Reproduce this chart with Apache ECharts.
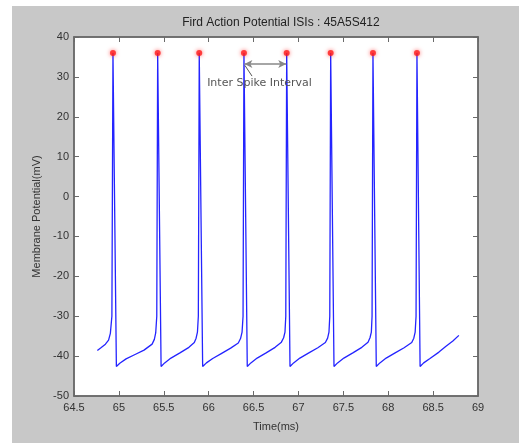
<!DOCTYPE html>
<html><head><meta charset="utf-8">
<script src="https://cdn.jsdelivr.net/npm/echarts@6/dist/echarts.min.js"></script>
<style>html,body{margin:0;padding:0;background:#fff}#c{width:519px;height:443px}</style>
</head><body><div id="c"></div>
<script>
// Membrane potential trace (time in ms, potential in mV)
const timeMs = [
64.760,64.800,64.850,64.885,64.905,64.922,64.934,
64.972,65.010,65.080,65.180,65.280,65.370,65.395,65.410,65.422,65.432,
65.470,65.510,65.580,65.680,65.780,65.840,65.860,65.875,65.885,65.895,
65.933,65.975,66.045,66.145,66.245,66.330,66.355,66.372,66.383,66.393,
66.430,66.470,66.540,66.640,66.740,66.810,66.835,66.850,66.859,66.869,
66.906,66.946,67.016,67.116,67.216,67.300,67.325,67.340,67.349,67.359,
67.396,67.436,67.506,67.606,67.706,67.775,67.797,67.812,67.820,67.830,
67.867,67.907,67.977,68.077,68.177,68.262,68.285,68.300,68.310,68.320,
68.355,68.395,68.465,68.565,68.640,68.720,68.787
];
const potentialMv = [
-38.6,-37.9,-37.0,-36.0,-34.3,-30.0,36.0,
-42.6,-41.8,-40.7,-39.6,-38.5,-37.0,-35.8,-34.2,-30.0,36.0,
-42.6,-41.7,-40.5,-39.2,-37.8,-36.6,-35.5,-34.0,-30.0,36.0,
-42.6,-41.7,-40.6,-39.3,-38.0,-36.7,-35.6,-34.0,-30.0,36.0,
-42.6,-41.7,-40.5,-39.2,-37.8,-36.5,-35.4,-34.0,-30.0,36.0,
-42.6,-41.7,-40.5,-39.2,-37.9,-36.6,-35.5,-34.0,-30.0,36.0,
-42.6,-41.7,-40.5,-39.2,-37.8,-36.5,-35.4,-34.0,-30.0,36.0,
-42.6,-41.7,-40.5,-39.2,-37.9,-36.6,-35.5,-34.0,-30.0,36.0,
-42.6,-41.7,-40.6,-39.0,-37.6,-36.2,-34.8
];
// Detected spike peaks
const peakTimes = [64.934,65.432,65.895,66.393,66.869,67.359,67.830,68.320];
const peakValues = [36,36,36,36,36,36,36,36];
// Axis ticks
const xTicks = {min:64.5, max:69, step:0.5};
const yTicks = {min:-50, max:40, step:10};
// Annotation
const isiStart = 66.393, isiEnd = 66.869, isiLevel = 33.2;
const isiLabel = 'Inter Spike Interval';
const titleText = 'Fird Action Potential ISIs : 45A5S412';

const chart = echarts.init(document.getElementById('c'));
const axisCol = '#6a6a6a';
const lblStyle = {color:'#333', fontFamily:'Liberation Sans, Arial, sans-serif', fontSize:11};
const tickCfg = {show:true, inside:true, length:5, lineStyle:{color:axisCol, width:1}};
const lineCfg = {show:true, onZero:false, lineStyle:{color:axisCol, width:1.5}};
chart.setOption({
  backgroundColor:'#fff',
  animation:false,
  graphic:[{type:'rect', z:-100, shape:{x:12,y:6,width:507,height:437}, style:{fill:'#c8c8c8'}}],
  title:{text:titleText, left:276, top:12, textAlign:'center',
    textStyle:{color:'#222', fontFamily:'Liberation Sans, Arial, sans-serif', fontSize:12, fontWeight:'normal'}},
  grid:{left:74, right:41, top:37, bottom:47, show:true, backgroundColor:'#fff', borderColor:axisCol, borderWidth:1.5},
  xAxis:[
    {type:'value', min:xTicks.min, max:xTicks.max, interval:xTicks.step, position:'bottom',
     name:'Time(ms)', nameLocation:'middle', nameGap:25, nameTextStyle:lblStyle,
     axisLine:lineCfg, axisTick:tickCfg,
     axisLabel:Object.assign({margin:6}, lblStyle), splitLine:{show:false}},
    {type:'value', min:xTicks.min, max:xTicks.max, interval:xTicks.step, position:'top',
     axisLine:lineCfg, axisTick:tickCfg,
     axisLabel:{show:false}, splitLine:{show:false}}
  ],
  yAxis:[
    {type:'value', min:yTicks.min, max:yTicks.max, interval:yTicks.step, position:'left',
     name:'Membrane Potential(mV)', nameLocation:'middle', nameGap:30, nameTextStyle:lblStyle,
     axisLine:lineCfg, axisTick:tickCfg,
     axisLabel:Object.assign({margin:5}, lblStyle), splitLine:{show:false}},
    {type:'value', min:yTicks.min, max:yTicks.max, interval:yTicks.step, position:'right',
     axisLine:lineCfg, axisTick:tickCfg,
     axisLabel:{show:false}, splitLine:{show:false}}
  ],
  series:[
    {type:'line', data:timeMs.map((t,i)=>[t,potentialMv[i]]), showSymbol:false, symbol:'none',
     lineStyle:{color:'#2424ff', width:1.3}, z:2,
     markLine:{silent:true, symbol:['arrow','arrow'], symbolSize:[6,8],
       lineStyle:{color:'#888', width:1.5, type:'solid'}, label:{show:false},
       data:[[{coord:[isiStart+0.005,isiLevel]},{coord:[isiEnd-0.005,isiLevel]}],
             [{coord:[isiStart+0.01,isiLevel-0.3], symbol:'none'},{coord:[isiStart+0.09,isiLevel-3.0], symbol:'none', lineStyle:{color:'#555',width:1}}]]},
     markPoint:{silent:true, symbol:'circle', symbolSize:0,
       label:{show:true, formatter:isiLabel, color:'#555', fontFamily:'DejaVu Sans, sans-serif', fontSize:11},
       data:[{coord:[66.566,28.5]}]}
    },
    {type:'scatter', data:peakTimes.map((t,i)=>[t,peakValues[i]]), symbol:'circle', symbolSize:6,
     itemStyle:{color:'#ff1a1a', shadowBlur:4, shadowColor:'rgba(255,0,0,0.7)'}, z:3}
  ]
});
</script></body></html>
